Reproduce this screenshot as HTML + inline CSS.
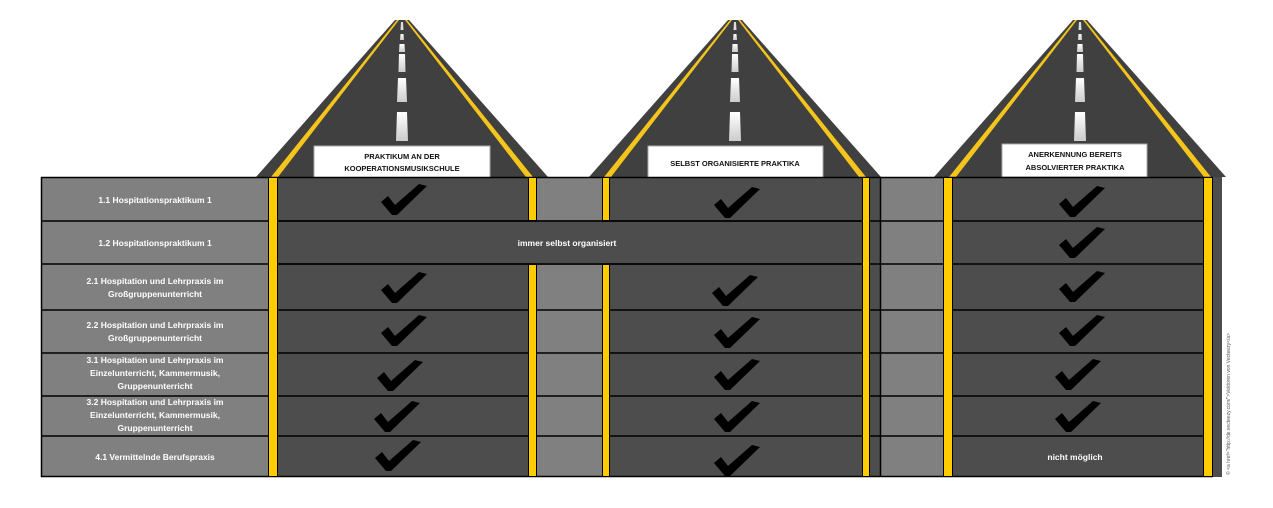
<!DOCTYPE html>
<html><head><meta charset="utf-8"><style>
html,body{margin:0;padding:0;background:#fff;width:1273px;height:508px;overflow:hidden}
svg text{font-family:"Liberation Sans",sans-serif;font-weight:bold}
</style></head><body>
<svg width="1273" height="508" viewBox="0 0 1273 508" xmlns="http://www.w3.org/2000/svg">
<defs>
<linearGradient id="dash" x1="0" y1="0" x2="0" y2="1"><stop offset="0" stop-color="#fff"/><stop offset="1" stop-color="#ccc"/></linearGradient>
<g id="chk"><polygon points="0,18 7,12 14,21 38,0 46,2 16,31 11,31" fill="#000"/></g>
<g id="road">
<polygon points="-7,0 7,0 146,157 -146,157" fill="#404040"/>
<polygon points="-5,0 -3,0 -124,157 -131,157" fill="#f5c51c"/>
<polygon points="3,0 5,0 131,157 124,157" fill="#f5c51c"/>
<polygon points="-1,2 1,2 1.5,10 -1.5,10" fill="#ddd"/>
<polygon points="-1.5,14 1.5,14 2,20 -2,20" fill="url(#dash)"/>
<polygon points="-2.5,24 2.5,24 3,32 -3,32" fill="url(#dash)"/>
<polygon points="-3,34 3,34 3.5,52 -3.5,52" fill="url(#dash)"/>
<polygon points="-4,58 4,58 5,82 -5,82" fill="url(#dash)"/>
<polygon points="-5,92 5,92 6,121 -6,121" fill="url(#dash)"/>
</g>
</defs>
<use href="#road" x="402" y="20"/>
<use href="#road" x="735" y="20"/>
<use href="#road" x="1080" y="20"/>
<!-- label boxes -->
<rect x="314" y="146" width="176" height="32" fill="#fff" stroke="#aaa"/>
<text x="402" y="159" font-size="7.5" text-anchor="middle" fill="#111">PRAKTIKUM AN DER</text>
<text x="402" y="171" font-size="7.5" text-anchor="middle" fill="#111">KOOPERATIONSMUSIKSCHULE</text>
<rect x="648" y="146" width="175" height="32" fill="#fff" stroke="#aaa"/>
<text x="735" y="166" font-size="7.5" text-anchor="middle" fill="#111">SELBST ORGANISIERTE PRAKTIKA</text>
<rect x="1002" y="144" width="145" height="33" fill="#fff" stroke="#aaa"/>
<text x="1075" y="157" font-size="7.5" text-anchor="middle" fill="#111">ANERKENNUNG BEREITS</text>
<text x="1075" y="170" font-size="7.5" text-anchor="middle" fill="#111">ABSOLVIERTER PRAKTIKA</text>
<!-- table body -->
<rect x="41" y="177" width="227" height="300" fill="#808080"/>
<rect x="278" y="177" width="250" height="300" fill="#4d4d4d"/>
<rect x="537" y="177" width="65" height="300" fill="#808080"/>
<rect x="610" y="177" width="252" height="300" fill="#4d4d4d"/>
<rect x="870" y="177" width="10" height="300" fill="#4d4d4d"/>
<rect x="880" y="177" width="63" height="300" fill="#808080"/>
<rect x="953" y="177" width="250" height="300" fill="#4d4d4d"/>
<rect x="1213" y="177" width="9" height="300" fill="#4d4d4d"/>
<rect x="278" y="221" width="584" height="43" fill="#4d4d4d"/>
<g stroke="#000" stroke-width="1.5">
<line x1="41" y1="177.5" x2="1213" y2="177.5"/>
<line x1="41" y1="221" x2="1213" y2="221"/>
<line x1="41" y1="264" x2="1213" y2="264"/>
<line x1="41" y1="310" x2="1213" y2="310"/>
<line x1="41" y1="353" x2="1213" y2="353"/>
<line x1="41" y1="396" x2="1213" y2="396"/>
<line x1="41" y1="436" x2="1213" y2="436"/>
<line x1="41" y1="476.5" x2="1213" y2="476.5"/>
<line x1="41.5" y1="177" x2="41.5" y2="477"/>
<line x1="880.5" y1="177" x2="880.5" y2="477"/>
</g>
<rect x="537" y="220" width="65" height="45" fill="#4d4d4d"/>
<line x1="278" y1="221" x2="862" y2="221" stroke="#000" stroke-width="1.5"/>
<line x1="278" y1="264" x2="862" y2="264" stroke="#000" stroke-width="1.5"/>
<!-- yellow bars -->
<g fill="#ffcc00" stroke="#000" stroke-width="1">
<rect x="268.5" y="177.5" width="9" height="299"/>
<rect x="528.5" y="177.5" width="8" height="43"/>
<rect x="528.5" y="264.5" width="8" height="212"/>
<rect x="602.5" y="177.5" width="7" height="43"/>
<rect x="602.5" y="264.5" width="7" height="212"/>
<rect x="862.5" y="177.5" width="7" height="299"/>
<rect x="943.5" y="177.5" width="9" height="299"/>
<rect x="1203.5" y="177.5" width="9" height="299"/>
</g>
<!-- labels -->
<g font-size="8.5" fill="#fff" text-anchor="middle">
<text x="155" y="203">1.1 Hospitationspraktikum 1</text>
<text x="155" y="246">1.2 Hospitationspraktikum 1</text>
<text x="155" y="284">2.1 Hospitation und Lehrpraxis im</text>
<text x="155" y="297">Großgruppenunterricht</text>
<text x="155" y="328">2.2 Hospitation und Lehrpraxis im</text>
<text x="155" y="341">Großgruppenunterricht</text>
<text x="155" y="363">3.1 Hospitation und Lehrpraxis im</text>
<text x="155" y="376">Einzelunterricht, Kammermusik,</text>
<text x="155" y="389">Gruppenunterricht</text>
<text x="155" y="405">3.2 Hospitation und Lehrpraxis im</text>
<text x="155" y="418">Einzelunterricht, Kammermusik,</text>
<text x="155" y="431">Gruppenunterricht</text>
<text x="155" y="460">4.1 Vermittelnde Berufspraxis</text>
<text x="567" y="246">immer selbst organisiert</text>
<text x="1075" y="460">nicht möglich</text>
</g>
<!-- checks -->
<use href="#chk" x="381" y="184"/><use href="#chk" x="714" y="187"/><use href="#chk" x="1059" y="186"/>
<use href="#chk" x="1059" y="227"/>
<use href="#chk" x="381" y="272"/><use href="#chk" x="712" y="275"/><use href="#chk" x="1059" y="271"/>
<use href="#chk" x="381" y="315"/><use href="#chk" x="714" y="317"/><use href="#chk" x="1059" y="315"/>
<use href="#chk" x="377" y="360"/><use href="#chk" x="714" y="359"/><use href="#chk" x="1055" y="359"/>
<use href="#chk" x="374" y="401"/><use href="#chk" x="714" y="401"/><use href="#chk" x="1055" y="401"/>
<use href="#chk" x="375" y="440"/><use href="#chk" x="714" y="445"/>
<text x="1230" y="475" font-size="5" fill="#555" transform="rotate(-90 1230 475)" style="font-weight:normal">© &lt;a href="http://de.vecteezy.com/"&gt;Vektoren von Vecteezy&lt;/a&gt;</text>
</svg>
</body></html>
